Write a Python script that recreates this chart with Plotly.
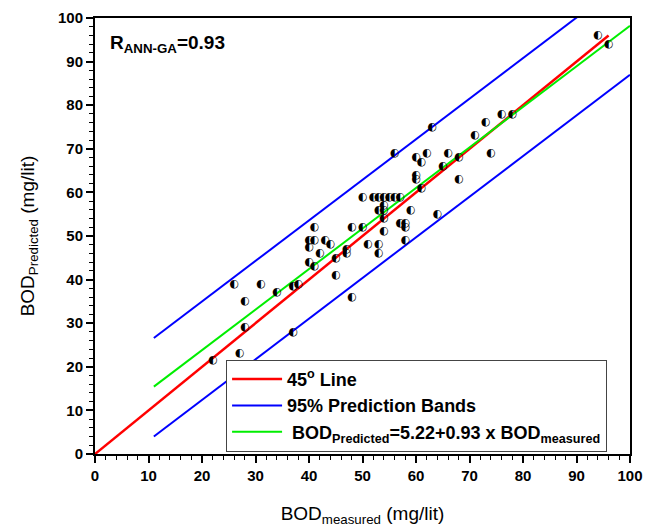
import plotly.graph_objects as go

# Measured vs predicted BOD (mg/lit)
bod_measured = [22, 27, 28, 28, 26, 31, 34, 37, 37, 38,
                40, 41, 40, 40, 41, 43, 44, 42, 41, 45,
                45, 47, 47, 48, 50, 48, 51, 53, 53, 54,
                54, 50, 52, 53, 54, 55, 56, 57, 54, 54,
                53, 57, 58, 58, 58, 59, 56, 60, 60, 60,
                61, 62, 66, 65, 68, 68, 61, 64, 63, 71,
                73, 74, 76, 78, 94, 96]
bod_predicted = [21.5, 23, 29, 35, 39, 39, 37, 28, 38.5, 39,
                 44, 43, 47.5, 49, 49, 49, 48, 46, 52, 45,
                 41, 47, 46, 52, 52, 36, 48, 48, 46, 51,
                 54, 59, 59, 59, 59, 59, 59, 59, 57, 56,
                 56, 53, 53, 52, 49, 56, 69, 63, 64, 68,
                 67, 69, 69, 66, 68, 63, 61, 55, 75, 73,
                 76, 69, 78, 78, 96, 94]

# 45 degree line
line45_x = [0, 96]
line45_y = [0, 96]

# Regression line  BOD_pred = 5.22 + 0.93 * BOD_meas
fit_x = [11, 100]
fit_y = [5.22 + 0.93 * v for v in fit_x]

# 95% prediction bands
band_x = [11, 100]
band_upper = [26.6, 109.4]
band_lower = [4.0, 87.0]

x_ticks = [0, 10, 20, 30, 40, 50, 60, 70, 80, 90, 100]
y_ticks = [0, 10, 20, 30, 40, 50, 60, 70, 80, 90, 100]

FONT = "Liberation Sans, Arial, sans-serif"

fig = go.Figure()

fig.add_trace(go.Scatter(x=line45_x, y=line45_y, mode="lines",
                         line=dict(color="#ff0000", width=2.5),
                         name="45<sup>o</sup> Line"))
fig.add_trace(go.Scatter(x=band_x, y=band_upper, mode="lines",
                         line=dict(color="#0000ff", width=2),
                         name="95% Prediction Bands", legendgroup="band"))
fig.add_trace(go.Scatter(x=band_x, y=band_lower, mode="lines",
                         line=dict(color="#0000ff", width=2),
                         name="95% Prediction Bands", legendgroup="band",
                         showlegend=False))
fig.add_trace(go.Scatter(x=fit_x, y=fit_y, mode="lines",
                         line=dict(color="#00ee00", width=2),
                         name=" BOD<sub>Predicted</sub>=5.22+0.93 x BOD<sub>measured</sub>"))
fig.add_trace(go.Scatter(x=bod_measured, y=bod_predicted, mode="text",
                         text=["\u25d0"] * len(bod_measured),
                         textposition="middle center",
                         textfont=dict(family="DejaVu Sans", size=11, color="black"),
                         showlegend=False))

fig.add_annotation(x=0.025, y=0.94, xref="paper", yref="paper",
                   xanchor="left", yanchor="middle", showarrow=False,
                   text="R<sub>ANN-GA</sub>=0.93",
                   font=dict(family=FONT, size=19, color="black", weight="bold"))

axis_common = dict(
    range=[0, 100], showgrid=False, zeroline=False, automargin=False,
    showline=True, linecolor="black", linewidth=2, mirror=True,
    ticks="outside", ticklen=7, tickwidth=1.5, tickcolor="black",
    minor=dict(dtick=2, ticks="outside", ticklen=4, tickwidth=1, tickcolor="black"),
    tickfont=dict(family=FONT, size=15, color="black", weight="bold"),
)

fig.update_xaxes(tickvals=x_ticks, ticktext=[str(v) for v in x_ticks],
                 title=dict(text="BOD<sub>measured</sub> (mg/lit)",
                            font=dict(family=FONT, size=19, color="black"),
                            standoff=24),
                 **axis_common)
fig.update_yaxes(tickvals=y_ticks, ticktext=[str(v) for v in y_ticks],
                 title=dict(text="BOD<sub>Predicted</sub> (mg/lit)",
                            font=dict(family=FONT, size=19, color="black"),
                            standoff=18),
                 **axis_common)

fig.update_layout(
    width=646, height=529,
    margin=dict(l=95, r=16, t=18, b=75),
    paper_bgcolor="white", plot_bgcolor="white",
    legend=dict(x=0.245, y=0.216, xanchor="left", yanchor="top",
                bgcolor="white", bordercolor="#444444", borderwidth=1,
                font=dict(family=FONT, size=18, color="black", weight="bold"),
                itemwidth=50, tracegroupgap=0),
    font=dict(family=FONT),
)

fig.write_html("out.html")
